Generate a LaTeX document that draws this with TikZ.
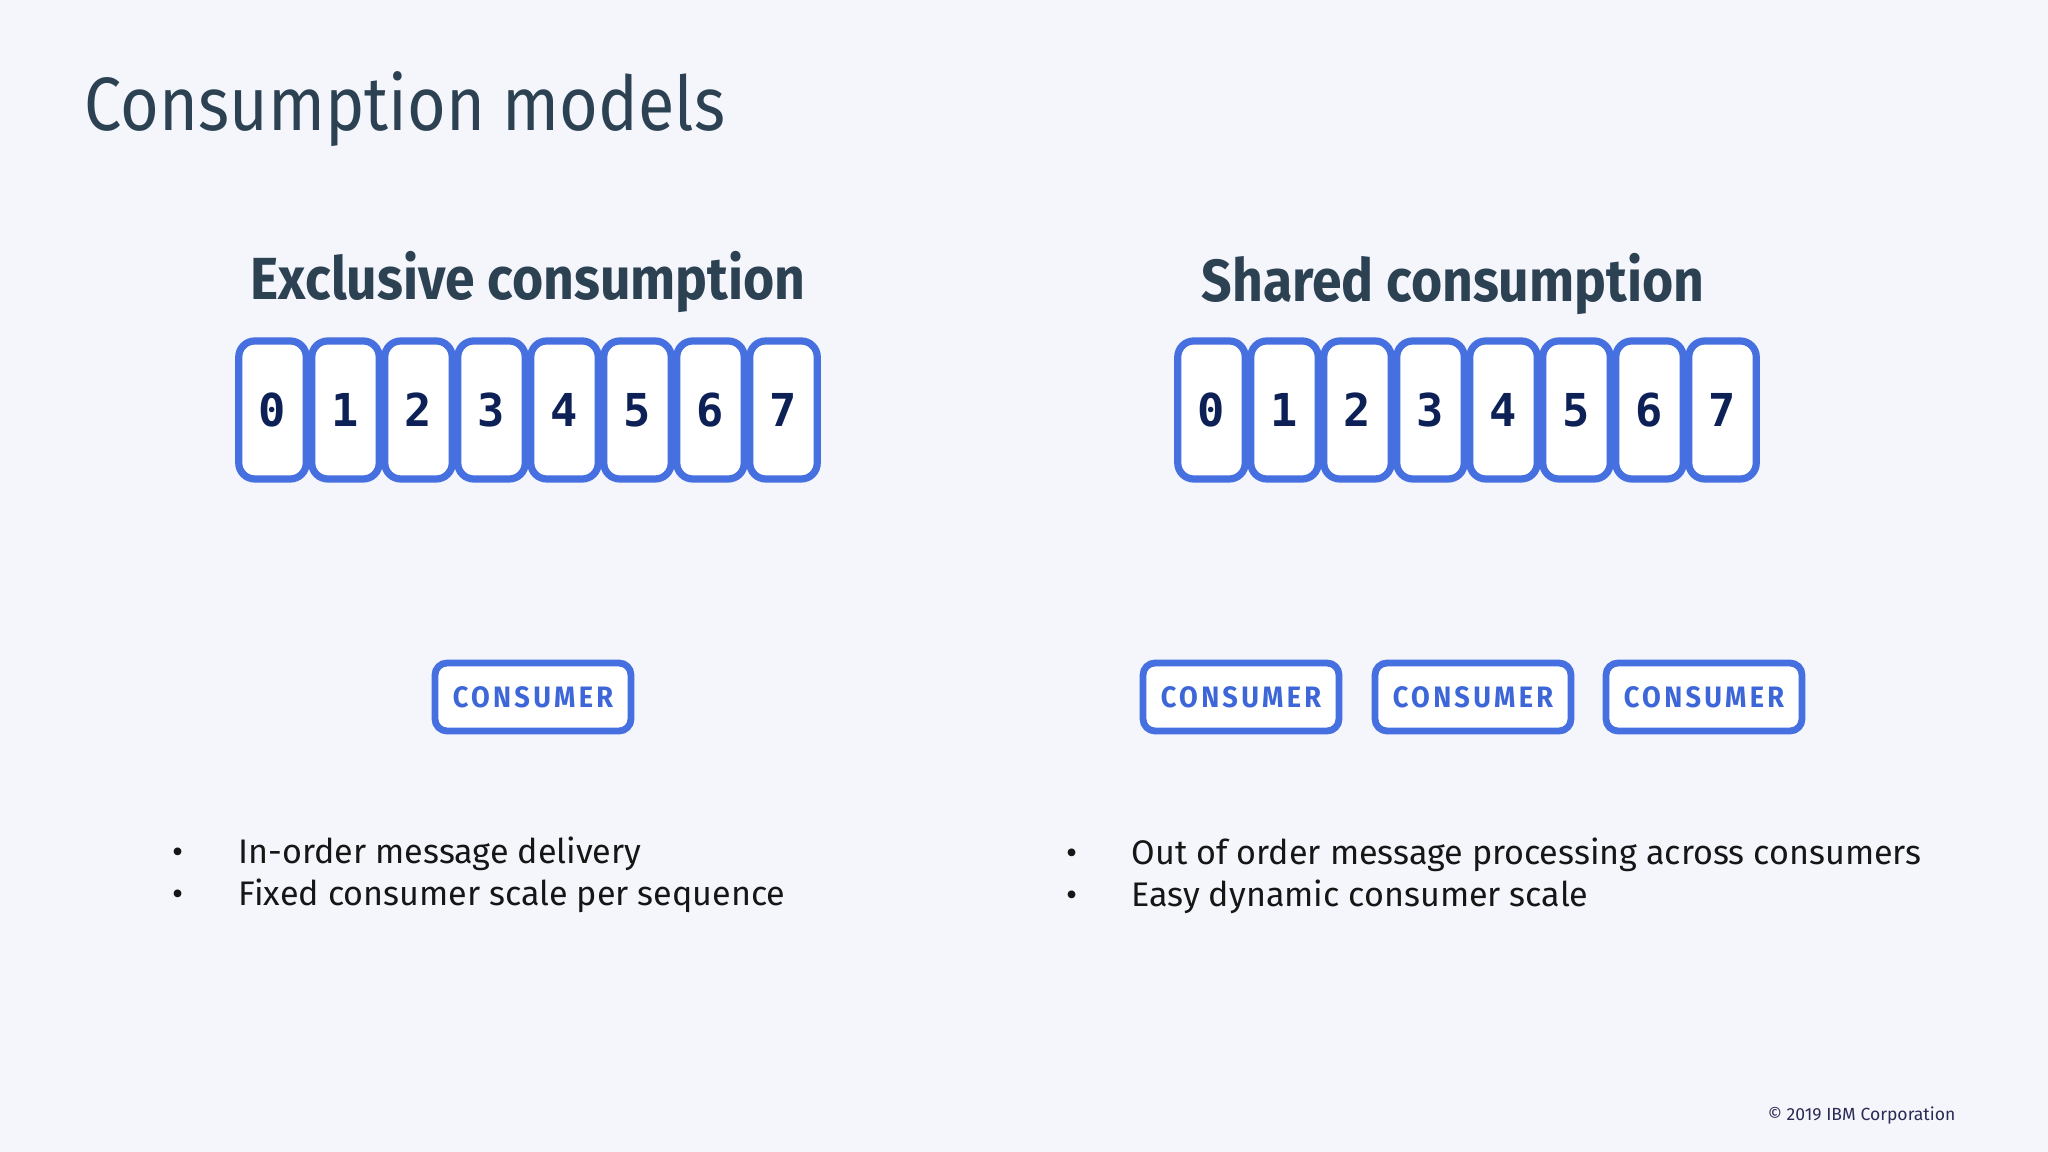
\documentclass[tikz,border=0pt]{standalone}
\usepackage{fontspec}
\setmainfont{Fira Sans}
\newfontfamily\lightfont[FakeStretch=0.88]{Fira Sans}
\newfontfamily\headfont[FakeStretch=0.9]{Fira Sans}
\newfontfamily\digitfont{DejaVu Sans Mono}
\newfontfamily\consfont[LetterSpace=11,FakeStretch=0.92]{Fira Sans}
\usepackage{tikz}
\usetikzlibrary{positioning}
\definecolor{bgcol}{HTML}{F4F6FC}
\definecolor{boxblue}{HTML}{4670E0}
\definecolor{digitnavy}{HTML}{0E2157}
\definecolor{titlecol}{HTML}{2C4152}
\definecolor{conscol}{HTML}{3D66D8}
\definecolor{bodycol}{HTML}{161616}
\definecolor{copycol}{HTML}{2B2B55}
\tikzset{
    slot/.style={
           draw=boxblue, fill=white,
           line width=0.72mm,
           rounded corners=1.6mm,
           minimum width=6.75mm,
           minimum height=13.8mm,
           inner sep=0pt,
           text=digitnavy,
           font=\digitfont\bfseries\fontsize{12.9pt}{14pt}\selectfont},
    cons/.style={
           draw=boxblue, fill=white,
           line width=0.68mm,
           rounded corners=1.2mm,
           minimum width=19.6mm,
           minimum height=6.8mm,
           inner sep=0pt,
           text=conscol,
           font=\consfont\bfseries\fontsize{8.4pt}{10pt}\selectfont},
    head/.style={
           anchor=base,
           text=titlecol,
           inner sep=0pt,
           font=\headfont\bfseries\fontsize{16.9pt}{20pt}\selectfont},
    item/.style={
           anchor=base west,
           text=bodycol,
           inner sep=0pt,
           font=\fontsize{9.7pt}{11pt}\selectfont}
}
\begin{document}
\begin{tikzpicture}[x=0.1mm,y=-0.1mm]
          \def \pitch {73}
          \def \lx {272.5}
          \def \rx {1211.5}
          \def \sy {410}
          \fill[bgcol] (0,0) rectangle (2048,1152);
          \useasboundingbox (0,0) rectangle (2048,1152);
          \node[anchor=base west, inner sep=0pt, text=titlecol, font=\lightfont\fontsize{21.5pt}{26pt}\selectfont](title) at (84,131) {Consumption models};
          % exclusive side
          \node[head](exhead) at (528,300) {Exclusive consumption};
          \node[slot](ex0) at ({\lx + 0*\pitch},\sy) {0};
          \node[slot](ex1) at ({\lx + 1*\pitch},\sy) {1};
          \node[slot](ex2) at ({\lx + 2*\pitch},\sy) {2};
          \node[slot](ex3) at ({\lx + 3*\pitch},\sy) {3};
          \node[slot](ex4) at ({\lx + 4*\pitch},\sy) {4};
          \node[slot](ex5) at ({\lx + 5*\pitch},\sy) {5};
          \node[slot](ex6) at ({\lx + 6*\pitch},\sy) {6};
          \node[slot](ex7) at ({\lx + 7*\pitch},\sy) {7};
          \node[cons](excons) at (533,697) {CONSUMER};
          \node[item](exdot1) at (172,864) {\textbullet};
          \node[item](exdot2) at (172,906) {\textbullet};
          \node[item](exitem1) at (238,864) {In-order message delivery};
          \node[item](exitem2) at (238,906) {Fixed consumer scale per sequence};
          % shared side
          \node[head](shhead) at (1453,302) {Shared consumption};
          \node[slot](sh0) at ({\rx + 0*\pitch},\sy) {0};
          \node[slot](sh1) at ({\rx + 1*\pitch},\sy) {1};
          \node[slot](sh2) at ({\rx + 2*\pitch},\sy) {2};
          \node[slot](sh3) at ({\rx + 3*\pitch},\sy) {3};
          \node[slot](sh4) at ({\rx + 4*\pitch},\sy) {4};
          \node[slot](sh5) at ({\rx + 5*\pitch},\sy) {5};
          \node[slot](sh6) at ({\rx + 6*\pitch},\sy) {6};
          \node[slot](sh7) at ({\rx + 7*\pitch},\sy) {7};
          \node[cons](shcons1) at (1241,697) {CONSUMER};
          \node[cons](shcons2) at (1473,697) {CONSUMER};
          \node[cons](shcons3) at (1704,697) {CONSUMER};
          \node[item](shdot1) at (1066,865) {\textbullet};
          \node[item](shdot2) at (1066,907) {\textbullet};
          \node[item](shitem1) at (1131,865) {Out of order message processing across consumers};
          \node[item](shitem2) at (1131,907) {Easy dynamic consumer scale};
          \node[anchor=base east, inner sep=0pt, text=copycol, font=\fontsize{5pt}{6pt}\selectfont](copy) at (1956,1121) {\textcopyright{} 2019 IBM Corporation};
         \end{tikzpicture}
\end{document}
